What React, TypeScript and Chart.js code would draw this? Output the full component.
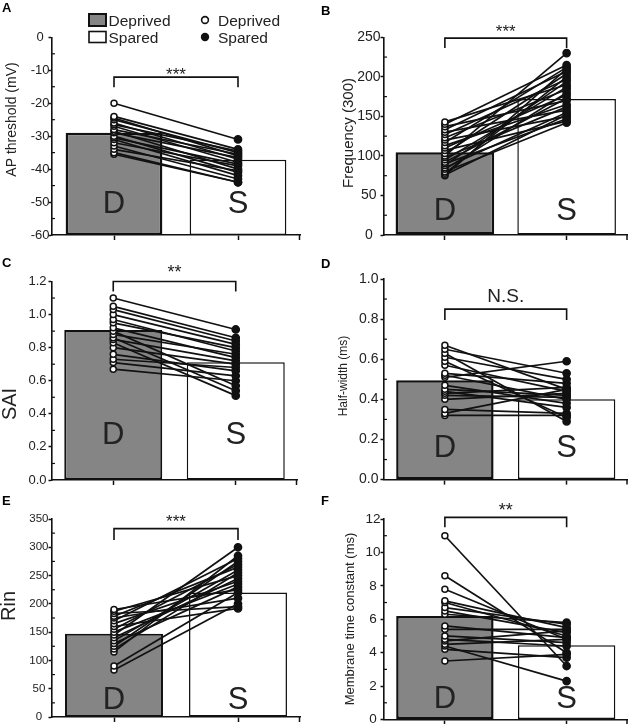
import React, { useEffect, useRef } from "react";
import { Chart, registerables } from "chart.js";

Chart.register(...registerables);

const FONT = '"Liberation Sans", Arial, Helvetica, sans-serif';
const TEXT = "#222";
const INK = "#111";
const GRAY = "#858585";

const CATEGORIES = ["D", "S"];
const LEGEND_BAR_LABELS = ["Deprived", "Spared"];
const LEGEND_POINT_LABELS = ["Deprived", "Spared"];

// ---- Panel A: AP threshold (mV)
const A_BARS = [-29.0, -37.2];
const A_DEPRIVED = [-20, -24, -24.5, -25, -26, -26.5, -27, -28, -28.5, -29, -30, -30.5, -31, -32, -33, -34, -35, -35.5];
const A_SPARED = [-31, -34, -36, -35, -37, -34.5, -38, -35.5, -40, -36.5, -41, -38.5, -42, -39, -43, -40.5, -44, -44];

// ---- Panel B: Frequency (300)
const B_BARS = [104.6, 172];
const B_DEPRIVED = [143, 140, 137, 133, 130, 127, 123, 120, 117, 113, 110, 107, 103, 100, 98, 95, 92, 90, 88, 85, 83, 80, 78, 76, 75];
const B_SPARED = [190, 215, 170, 207, 158, 197, 184, 150, 212, 165, 177, 144, 204, 230, 162, 187, 173, 147, 194, 155, 180, 142, 200, 152, 210];

// ---- Panel C: SAI
const C_BARS = [0.907, 0.712];
const C_DEPRIVED = [1.10, 1.05, 1.03, 1.00, 0.97, 0.95, 0.92, 0.90, 0.88, 0.86, 0.85, 0.83, 0.80, 0.76, 0.73, 0.71, 0.67];
const C_SPARED = [0.91, 0.86, 0.84, 0.82, 0.78, 0.80, 0.74, 0.57, 0.76, 0.54, 0.72, 0.51, 0.70, 0.66, 0.68, 0.63, 0.60];

// ---- Panel D: Half-width (ms)
const D_BARS = [0.495, 0.40];
const D_DEPRIVED = [0.67, 0.65, 0.63, 0.61, 0.59, 0.57, 0.53, 0.52, 0.51, 0.47, 0.45, 0.44, 0.43, 0.42, 0.40, 0.35, 0.33, 0.32];
const D_SPARED = [0.45, 0.53, 0.29, 0.50, 0.31, 0.44, 0.48, 0.40, 0.59, 0.38, 0.42, 0.36, 0.46, 0.41, 0.43, 0.33, 0.45, 0.32];

// ---- Panel E: Rin
const E_BARS = [147, 220];
const E_DEPRIVED = [190, 187, 183, 178, 175, 170, 165, 160, 155, 150, 145, 140, 135, 130, 125, 120, 115, 90, 83];
const E_SPARED = [225, 250, 195, 265, 210, 280, 240, 192, 270, 235, 300, 245, 260, 230, 275, 255, 285, 220, 200];

// ---- Panel F: Membrane time constant (ms)
const F_BARS = [6.2, 4.45];
const F_DEPRIVED = [11.0, 8.6, 7.8, 7.1, 7.0, 6.7, 6.5, 6.3, 5.6, 5.4, 5.0, 4.8, 4.7, 4.5, 4.4, 4.2, 3.5];
const F_SPARED = [3.2, 4.0, 4.8, 5.5, 5.0, 5.7, 5.2, 5.8, 4.9, 5.4, 4.6, 4.4, 5.3, 4.8, 2.3, 3.7, 3.9];

type PanelCfg = {
  letter: string;
  letterPos: [number, number];
  title: string;
  titleSize: number;
  titlePos: [number, number];
  canvas: [number, number, number, number];
  area: [number, number, number, number];
  yMin: number;
  yMax: number;
  yStep: number;
  decimals: number;
  tickSize: number;
  tickPad: number;
  barPct: number;
  dBorder: number;
  bars: number[];
  deprived: number[];
  spared: number[];
  sig: string;
  sigValue: number;
  sigTick: number;
  sigGap: number;
  sigSize: number;
  lift: number;
  legend?: boolean;
};

const PANELS: PanelCfg[] = [
  {
    letter: "A", letterPos: [2, 12], title: "AP threshold (mV)", titleSize: 14, titlePos: [12.5, 119.5],
    canvas: [0, 0, 318, 245], area: [52, 37.3, 300, 235],
    yMin: -60, yMax: 0, yStep: 10, decimals: 0, tickSize: 13, tickPad: -1, barPct: 0.78, dBorder: 2.5,
    bars: A_BARS, deprived: A_DEPRIVED, spared: A_SPARED,
    sig: "***", sigValue: -12.1, sigTick: 10, sigGap: 7, sigSize: 17, lift: 33, legend: true,
  },
  {
    letter: "B", letterPos: [321, 15], title: "Frequency (300)", titleSize: 15, titlePos: [349, 133],
    canvas: [316, 0, 317, 245], area: [384, 37.3, 629, 235],
    yMin: 0, yMax: 250, yStep: 50, decimals: 0, tickSize: 14, tickPad: 0, barPct: 0.81, dBorder: 2.5,
    bars: B_BARS, deprived: B_DEPRIVED, spared: B_SPARED,
    sig: "***", sigValue: 249, sigTick: 10, sigGap: 11.3, sigSize: 17, lift: 26,
  },
  {
    letter: "C", letterPos: [2, 267], title: "SAI", titleSize: 20, titlePos: [10, 404],
    canvas: [0, 245, 318, 245], area: [52, 281.5, 297, 480],
    yMin: 0, yMax: 1.2, yStep: 0.2, decimals: 1, tickSize: 13, tickPad: 2, barPct: 0.8, dBorder: 2,
    bars: C_BARS, deprived: C_DEPRIVED, spared: C_SPARED,
    sig: "**", sigValue: 1.2, sigTick: 10, sigGap: 13.7, sigSize: 18, lift: 47,
  },
  {
    letter: "D", letterPos: [321, 268], title: "Half-width (ms)", titleSize: 12, titlePos: [344, 376],
    canvas: [316, 245, 317, 245], area: [384, 279, 628, 480],
    yMin: 0, yMax: 1.0, yStep: 0.2, decimals: 1, tickSize: 14, tickPad: 2, barPct: 0.8, dBorder: 2.5,
    bars: D_BARS, deprived: D_DEPRIVED, spared: D_SPARED,
    sig: "N.S.", sigValue: 0.85, sigTick: 11, sigGap: 14, sigSize: 19, lift: 34,
  },
  {
    letter: "E", letterPos: [2, 505], title: "Rin", titleSize: 20, titlePos: [9.5, 606],
    canvas: [0, 485, 318, 249], area: [52, 519, 300, 717],
    yMin: 0, yMax: 350, yStep: 50, decimals: 0, tickSize: 11.5, tickPad: 0, barPct: 0.79, dBorder: 2,
    bars: E_BARS, deprived: E_DEPRIVED, spared: E_SPARED,
    sig: "***", sigValue: 333, sigTick: 11.5, sigGap: 11.6, sigSize: 17, lift: 19,
  },
  {
    letter: "F", letterPos: [321, 505], title: "Membrane time constant (ms)", titleSize: 13, titlePos: [350, 619],
    canvas: [316, 485, 317, 249], area: [384, 519, 628, 719.5],
    yMin: 0, yMax: 12, yStep: 2, decimals: 0, tickSize: 13.5, tickPad: 0, barPct: 0.8, dBorder: 2.5,
    bars: F_BARS, deprived: F_DEPRIVED, spared: F_SPARED,
    sig: "**", sigValue: 12.1, sigTick: 10, sigGap: 11.7, sigSize: 18, lift: 23,
  },
];

function drawLegend(ctx: CanvasRenderingContext2D, ox: number, oy: number) {
  ctx.save();
  ctx.fillStyle = GRAY;
  ctx.fillRect(89 - ox, 14 - oy, 17, 12);
  ctx.strokeStyle = INK;
  ctx.lineWidth = 2;
  ctx.strokeRect(89 - ox, 14 - oy, 17, 12);
  ctx.fillStyle = "#fff";
  ctx.fillRect(89 - ox, 31.5 - oy, 17, 11);
  ctx.lineWidth = 1.6;
  ctx.strokeRect(89 - ox, 31.5 - oy, 17, 11);
  ctx.beginPath();
  ctx.arc(205 - ox, 20 - oy, 3.4, 0, Math.PI * 2);
  ctx.fillStyle = "#fff";
  ctx.fill();
  ctx.lineWidth = 1.6;
  ctx.stroke();
  ctx.beginPath();
  ctx.arc(205 - ox, 37 - oy, 4.2, 0, Math.PI * 2);
  ctx.fillStyle = INK;
  ctx.fill();
  ctx.fillStyle = TEXT;
  ctx.font = `15.5px ${FONT}`;
  ctx.textAlign = "left";
  ctx.textBaseline = "alphabetic";
  ctx.fillText(LEGEND_BAR_LABELS[0], 108.5 - ox, 25.5 - oy);
  ctx.fillText(LEGEND_BAR_LABELS[1], 108.5 - ox, 42.5 - oy);
  ctx.fillText(LEGEND_POINT_LABELS[0], 218 - ox, 25.5 - oy);
  ctx.fillText(LEGEND_POINT_LABELS[1], 218 - ox, 42.5 - oy);
  ctx.restore();
}

function makeDecor(p: PanelCfg) {
  return {
    id: "decor" + p.letter,
    afterDraw(chart: any) {
      const ctx: CanvasRenderingContext2D = chart.ctx;
      const ox = p.canvas[0];
      const oy = p.canvas[1];
      const xs = chart.scales.x;
      const ys = chart.scales.y;
      const area = chart.chartArea;
      ctx.save();
      ctx.strokeStyle = INK;
      ctx.lineWidth = 1.2;
      const n = Math.round((p.yMax - p.yMin) / p.yStep);
      for (let i = 0; i < n; i++) {
        const py = ys.getPixelForValue(p.yMin + (i + 0.5) * p.yStep);
        ctx.beginPath();
        ctx.moveTo(area.left, py);
        ctx.lineTo(area.left + 3, py);
        ctx.stroke();
      }
      ctx.lineWidth = 1.5;
      ctx.beginPath();
      ctx.moveTo(area.right - 0.5, area.bottom);
      ctx.lineTo(area.right - 0.5, area.bottom + 5);
      ctx.stroke();

      ctx.fillStyle = TEXT;
      ctx.font = `31px ${FONT}`;
      ctx.textAlign = "center";
      ctx.textBaseline = "alphabetic";
      CATEGORIES.forEach((c, i) => {
        const px = xs.getPixelForValue(i);
        ctx.fillText(c, px, area.bottom - p.lift + 0.358 * 31);
      });

      const by = ys.getPixelForValue(p.sigValue);
      const x1 = xs.getPixelForValue(0);
      const x2 = xs.getPixelForValue(1);
      ctx.lineWidth = 1.6;
      ctx.beginPath();
      ctx.moveTo(x1, by + p.sigTick);
      ctx.lineTo(x1, by);
      ctx.lineTo(x2, by);
      ctx.lineTo(x2, by + p.sigTick);
      ctx.stroke();
      const cyText = by - p.sigGap;
      const isStar = p.sig.indexOf("*") >= 0;
      ctx.font = `${p.sigSize}px ${FONT}`;
      ctx.fillText(p.sig, (x1 + x2) / 2, cyText + (isStar ? 0.59 : 0.358) * p.sigSize);

      ctx.save();
      ctx.translate(p.titlePos[0] - ox, p.titlePos[1] - oy);
      ctx.rotate(-Math.PI / 2);
      ctx.font = `${p.titleSize}px ${FONT}`;
      ctx.textAlign = "center";
      ctx.textBaseline = "middle";
      ctx.fillText(p.title, 0, 0);
      ctx.restore();

      ctx.font = `bold 13px ${FONT}`;
      ctx.textAlign = "left";
      ctx.textBaseline = "alphabetic";
      ctx.fillStyle = "#000";
      ctx.fillText(p.letter, p.letterPos[0] - ox, p.letterPos[1] - oy);
      ctx.restore();

      if (p.legend) drawLegend(ctx, ox, oy);
    },
  };
}

function buildConfig(p: PanelCfg): any {
  const [cx, cy, cw, ch] = p.canvas;
  const [al, at, ar, ab] = p.area;
  const barData = p.yMin < 0 ? p.bars.map((v) => [p.yMin, v]) : p.bars;
  const datasets: any[] = [
    {
      type: "bar",
      data: barData,
      backgroundColor: [GRAY, "#ffffff"],
      borderColor: INK,
      borderWidth: [p.dBorder, 1.5],
      borderSkipped: false,
      barPercentage: p.barPct,
      categoryPercentage: 1,
      order: 3,
    },
  ];
  p.deprived.forEach((d, i) => {
    datasets.push({
      type: "line",
      data: [d, p.spared[i]],
      borderColor: INK,
      borderWidth: 1.7,
      pointRadius: 0,
      fill: false,
      order: 2,
    });
  });
  p.deprived.forEach((d, i) => {
    datasets.push({
      type: "line",
      data: [d, p.spared[i]],
      showLine: false,
      pointRadius: [3, 3.6],
      pointBorderWidth: 1.5,
      pointBackgroundColor: ["#ffffff", INK],
      pointBorderColor: INK,
      order: 1,
    });
  });

  return {
    type: "bar",
    data: { labels: CATEGORIES, datasets },
    options: {
      responsive: false,
      animation: false,
      devicePixelRatio: 1,
      events: [],
      layout: { padding: { left: 0, top: at - cy, right: cx + cw - ar, bottom: 0 } },
      plugins: { legend: { display: false }, tooltip: { enabled: false }, title: { display: false } },
      scales: {
        x: {
          type: "category",
          offset: true,
          grid: {
            display: true,
            drawOnChartArea: false,
            drawTicks: true,
            tickLength: 5,
            tickColor: INK,
            tickWidth: 1.5,
            offset: false,
          },
          border: { display: true, color: INK, width: 1.6 },
          ticks: { display: false },
          afterFit: (s: any) => {
            s.height = cy + ch - ab;
          },
        },
        y: {
          min: p.yMin,
          max: p.yMax,
          ticks: {
            stepSize: p.yStep,
            autoSkip: false,
            color: TEXT,
            font: { family: FONT, size: p.tickSize },
            crossAlign: "center",
            padding: p.tickPad,
            callback: (v: any) => Number(v).toFixed(p.decimals),
          },
          grid: {
            display: true,
            drawOnChartArea: false,
            drawTicks: true,
            tickLength: 3.5,
            tickColor: INK,
            tickWidth: 1.5,
          },
          border: { display: true, color: INK, width: 1.6 },
          afterFit: (s: any) => {
            s.width = al - cx;
          },
        },
      },
    },
    plugins: [makeDecor(p)],
  };
}

function Panel({ cfg }: { cfg: PanelCfg }) {
  const ref = useRef<HTMLCanvasElement>(null);
  useEffect(() => {
    const chart = new Chart(ref.current as HTMLCanvasElement, buildConfig(cfg));
    return () => chart.destroy();
  }, [cfg]);
  const [x, y, w, h] = cfg.canvas;
  return (
    <canvas
      ref={ref}
      width={w}
      height={h}
      style={{ position: "absolute", left: x, top: y, width: w, height: h }}
    />
  );
}

export default function App() {
  return (
    <div
      style={{
        position: "absolute",
        left: 0,
        top: 0,
        width: 633,
        height: 724,
        overflow: "hidden",
        background: "#fff",
      }}
    >
      {PANELS.map((p) => (
        <Panel key={p.letter} cfg={p} />
      ))}
    </div>
  );
}
